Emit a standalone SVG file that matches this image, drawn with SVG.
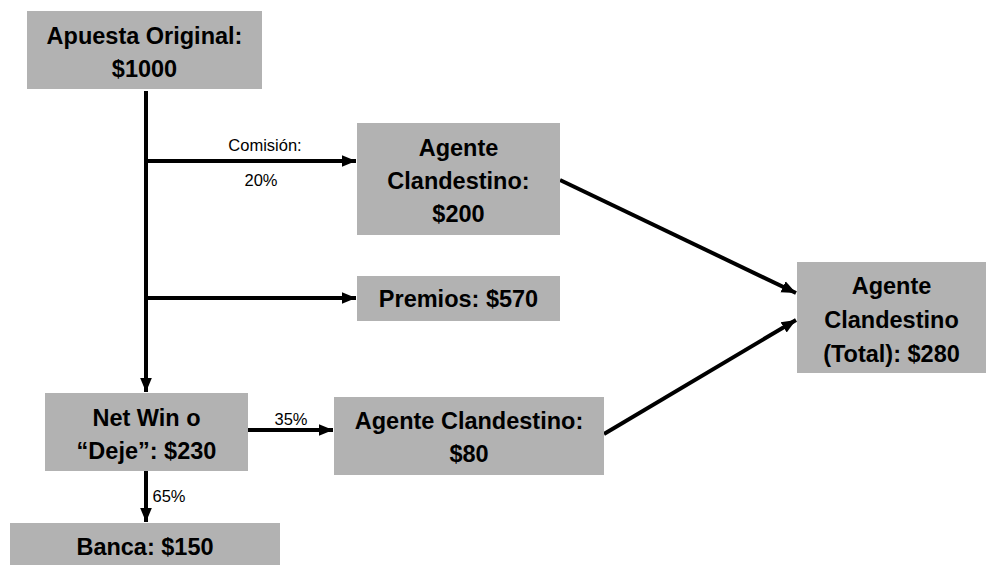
<svg xmlns="http://www.w3.org/2000/svg" width="987" height="565" viewBox="0 0 987 565">
  <defs>
    <marker id="ah" markerWidth="4" markerHeight="4" refX="3.6" refY="2" orient="auto" markerUnits="strokeWidth">
      <path d="M0,0.5 L3.6,2 L0,3.5 Z" fill="#000"/>
    </marker>
    <style>
      .box { fill: #b2b2b2; }
      .t { font-family: "Liberation Sans", Arial, sans-serif; font-weight: bold; font-size: 23.5px; fill: #000; text-anchor: middle; }
      .s { font-family: "Liberation Sans", Arial, sans-serif; font-size: 16.5px; fill: #000; text-anchor: middle; }
      .ln { stroke: #000; stroke-width: 4; fill: none; }
      .ar { stroke: #000; stroke-width: 4; fill: none; marker-end: url(#ah); }
    </style>
  </defs>
  <rect width="987" height="565" fill="#fff"/>

  <g id="connectors">
    <line class="ln" x1="146" y1="91" x2="146" y2="300"/>
    <line class="ar" x1="146" y1="300" x2="146" y2="392"/>
    <line class="ar" x1="146" y1="161" x2="356" y2="161"/>
    <line class="ar" x1="146" y1="298" x2="356" y2="298"/>
    <line class="ar" x1="248" y1="430" x2="333" y2="430"/>
    <line class="ar" x1="146" y1="471" x2="146" y2="522"/>
    <line class="ar" x1="560" y1="180" x2="796" y2="293"/>
    <line class="ar" x1="604" y1="434" x2="796" y2="320"/>
    <text class="s" x="265" y="151">Comisión:</text>
    <text class="s" x="261" y="186">20%</text>
    <text class="s" x="291" y="425">35%</text>
    <text class="s" x="169" y="502">65%</text>
  </g>

  <g id="apuesta">
    <rect class="box" x="27" y="11" width="235" height="78"/>
    <text class="t" x="144.5" y="44">Apuesta Original:</text>
    <text class="t" x="144.5" y="77">$1000</text>
  </g>

  <g id="agente200">
    <rect class="box" x="357" y="123" width="203" height="112"/>
    <text class="t" x="458.5" y="156">Agente</text>
    <text class="t" x="458.5" y="189">Clandestino:</text>
    <text class="t" x="458.5" y="222">$200</text>
  </g>

  <g id="premios">
    <rect class="box" x="357" y="276" width="203" height="45"/>
    <text class="t" x="458.5" y="307">Premios: $570</text>
  </g>

  <g id="netwin">
    <rect class="box" x="45" y="393" width="203" height="78"/>
    <text class="t" x="146.5" y="426">Net Win o</text>
    <text class="t" x="146.5" y="459">“Deje”: $230</text>
  </g>

  <g id="agente80">
    <rect class="box" x="334" y="397" width="270" height="78"/>
    <text class="t" x="469" y="429">Agente Clandestino:</text>
    <text class="t" x="469" y="462">$80</text>
  </g>

  <g id="banca">
    <rect class="box" x="10" y="523" width="270" height="45"/>
    <text class="t" x="145" y="555">Banca: $150</text>
  </g>

  <g id="total">
    <rect class="box" x="797" y="262" width="189" height="111"/>
    <text class="t" x="891.5" y="294">Agente</text>
    <text class="t" x="891.5" y="328">Clandestino</text>
    <text class="t" x="891.5" y="362">(Total): $280</text>
  </g>
</svg>
